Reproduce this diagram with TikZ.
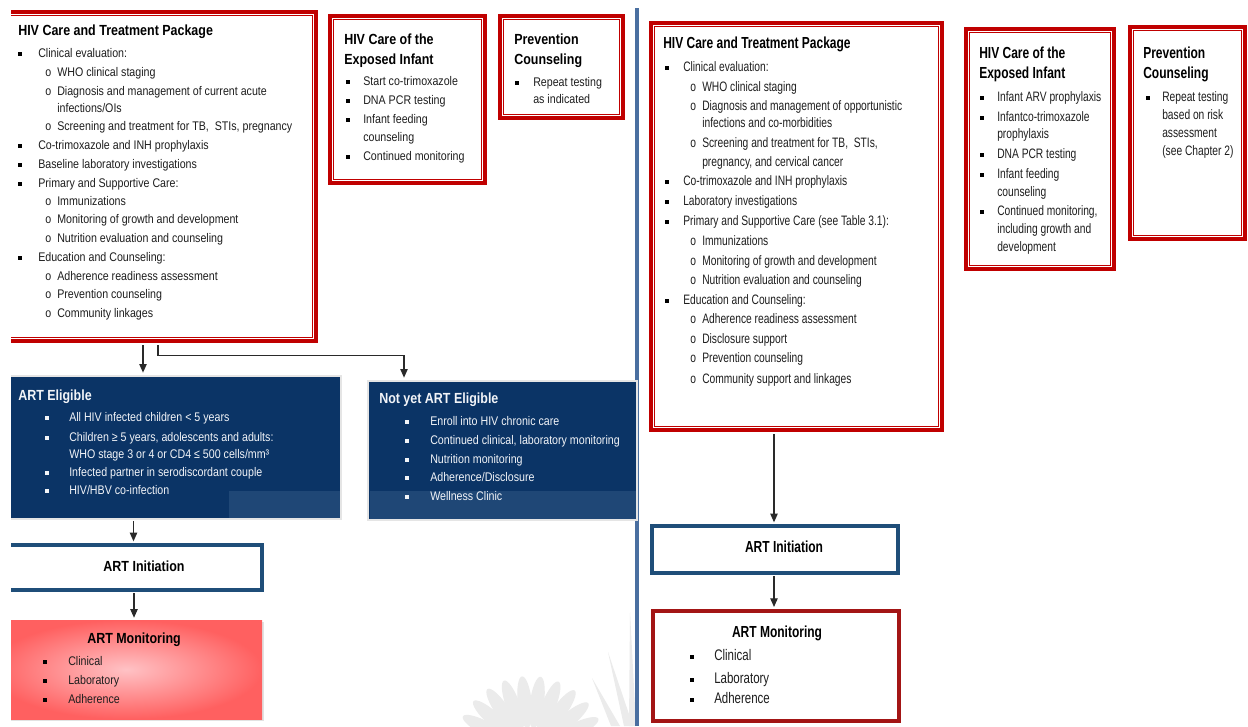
\documentclass[tikz,border=0pt]{standalone}
\usepackage{fontspec}
\setmainfont{Liberation Sans}
\newfontfamily\fA{Liberation Sans}[FakeStretch=0.85]
\newfontfamily\fB{Liberation Sans}[FakeStretch=0.75]
\usetikzlibrary{arrows.meta,fit,shadows}
\definecolor{boxred}{HTML}{C00000}
\definecolor{monred}{HTML}{A31515}
\definecolor{navy}{HTML}{0B3466}
\definecolor{navylt}{HTML}{1F4776}
\definecolor{initblue}{HTML}{1F4E79}
\definecolor{divblue}{HTML}{4A6FA0}
\definecolor{txt}{HTML}{1E1E1E}
\definecolor{whtxt}{HTML}{F2F4F8}
\definecolor{pinkc}{HTML}{FFC2C5}
\definecolor{redc}{HTML}{FF6060}
\definecolor{arrgray}{HTML}{2A2A2A}
\definecolor{wm}{HTML}{EBEBEB}
\tikzset{
  bA/.style={anchor=mid west, inner sep=0pt, text=txt, font=\fA\fontsize{9.4}{11}\selectfont},
  hA/.style={anchor=mid west, inner sep=0pt, text=black, font=\fA\bfseries\fontsize{11}{13}\selectfont},
  bB/.style={anchor=mid west, inner sep=0pt, text=txt, font=\fB\fontsize{10.25}{12}\selectfont},
  bC/.style={anchor=mid west, inner sep=0pt, text=txt, font=\fB\fontsize{11.5}{13}\selectfont},
  hB/.style={anchor=mid west, inner sep=0pt, text=black, font=\fB\bfseries\fontsize{12}{14}\selectfont},
  sq/.style={fill=#1, inner sep=0pt, minimum size=3pt, anchor=center},
  redbox/.style={draw=boxred, line width=3.5pt, fill=white, inner sep=0pt},
  navybox/.style={draw=gray!20, line width=2pt, fill=navy, inner sep=0pt},
  initbox/.style={draw=initblue, line width=2.5pt, fill=white, inner sep=0pt},
  arr/.style={draw=arrgray, line width=0.9pt, -{Triangle[length=6.5pt,width=5.5pt]}, shorten >=1.5pt},
}
\newcommand\TL[4]{\node[#1] (#2) at (#3) {#4};}
\newcommand\SQ[3]{\node[sq=#1] (#2) at (#3) {};}
\newcommand\DBL[1]{\draw[boxred, line width=0.8pt] ([shift={(5.5,5.5)}]#1.north west) rectangle ([shift={(-5.5,-5.5)}]#1.south east);}
\begin{document}
\begin{tikzpicture}[x=0.75pt,y=-0.75pt]
\useasboundingbox (0,0) rectangle (1248,726);
\fill[white] (0,0) rectangle (1248,726);
% watermark
\foreach \a in {12,26,...,170} \fill[wm, rotate around={\a:(530,752)}] (580,752) ellipse (26 and 7);
\fill[wm] (592,678) -- (620,726) -- (611,726) -- cycle;
\fill[wm] (608,652) -- (633,726) -- (624,726) -- cycle;
\fill[wm] (630,612) -- (636,726) -- (629,726) -- cycle;
% divider
\draw[divblue, line width=2.5pt] (637,8) -- (637,726);
% left column (cropped at left)
\begin{scope}
\clip (11,0) rectangle (1248,726);
\node[redbox, fit={(-10,12) (316,341)}] (b1) {};
\DBL{b1}
\node[navybox, fit={(-10,376) (341,519)}] (ae) {};
\fill[navylt] (229,491) rectangle (340,518);
\node[initbox, fit={(-10,545) (262,590)}] (ai) {};
\node[fit={(-10,620) (262,719)}, inner sep=0pt, inner color=pinkc, outer color=redc, drop shadow={shadow xshift=1.5pt, shadow yshift=-1.5pt, fill=gray!45}] (am) {};
\end{scope}
% boxes
\node[redbox, fit={(330,16) (485,183)}] (b2) {};
\DBL{b2}
\node[redbox, fit={(500,16) (623,118)}] (b3) {};
\DBL{b3}
\node[navybox, fit={(368,381) (637,520)}] (ny) {};
\fill[navylt] (369.5,491) rectangle (636,519);
\node[redbox, fit={(651,23) (942,430)}] (b4) {};
\DBL{b4}
\node[redbox, fit={(966,29) (1114,269)}] (b5) {};
\DBL{b5}
\node[redbox, fit={(1130,27) (1245,239)}] (b6) {};
\DBL{b6}
\node[initbox, fit={(652,526) (898,573)}] (ai2) {};
\node[draw=monred, line width=3pt, fill=white, inner sep=0pt, fit={(653,611) (899,721)}] (am2) {};
% connectors
\draw[arr] ([shift={(-10,2)}]b1.south) -- ([shift={(-10,0)}]b1.south |- ae.north);
\draw[arr] ([shift={(5,2)}]b1.south) -- ++(0,10) -| ([shift={(-98.5,0)}]ny.north);
\draw[arr] ([shift={(-32,1)}]ae.south) -- ([shift={(-32,0)}]ae.south |- ai.north);
\draw[arr] ([shift={(8,1.5)}]ai.south) -- ([shift={(8,0)}]ai.south |- am.north);
\draw[arr] ([shift={(-22.5,2)}]b4.south) -- ([shift={(-22.5,0)}]b4.south |- ai2.north);
\draw[arr] ([shift={(-1,1.5)}]ai2.south) -- ([shift={(-1,0)}]ai2.south |- am2.north);
% B1 text
\TL{hA}{b1t}{18,32}{HIV Care and Treatment Package}
\SQ{black}{b1s1}{20,54} \TL{bA}{b1a}{38,54}{Clinical evaluation:}
\TL{bA}{b1o1}{45,73}{o} \TL{bA}{b1b}{57,73}{WHO clinical staging}
\TL{bA}{b1o2}{45,92}{o} \TL{bA}{b1c}{57,92}{Diagnosis and management of current acute}
\TL{bA}{b1d}{57,109}{infections/OIs}
\TL{bA}{b1o3}{45,127}{o} \TL{bA}{b1e}{57,127}{Screening and treatment for TB,\ \ STIs, pregnancy}
\SQ{black}{b1s2}{20,146} \TL{bA}{b1f}{38,146}{Co-trimoxazole and INH prophylaxis}
\SQ{black}{b1s3}{20,165} \TL{bA}{b1g}{38,165}{Baseline laboratory investigations}
\SQ{black}{b1s4}{20,184} \TL{bA}{b1h}{38,184}{Primary and Supportive Care:}
\TL{bA}{b1o4}{45,202}{o} \TL{bA}{b1i}{57,202}{Immunizations}
\TL{bA}{b1o5}{45,220}{o} \TL{bA}{b1j}{57,220}{Monitoring of growth and development}
\TL{bA}{b1o6}{45,239}{o} \TL{bA}{b1k}{57,239}{Nutrition evaluation and counseling}
\SQ{black}{b1s5}{20,258} \TL{bA}{b1l}{38,258}{Education and Counseling:}
\TL{bA}{b1o7}{45,277}{o} \TL{bA}{b1m}{57,277}{Adherence readiness assessment}
\TL{bA}{b1o8}{45,295}{o} \TL{bA}{b1n}{57,295}{Prevention counseling}
\TL{bA}{b1o9}{45,314}{o} \TL{bA}{b1p}{57,314}{Community linkages}
% B2 text
\TL{hA}{b2t1}{344,41}{HIV Care of the}
\TL{hA}{b2t2}{344,61}{Exposed Infant}
\SQ{black}{b2s1}{348,82} \TL{bA}{b2a}{363,82}{Start co-trimoxazole}
\SQ{black}{b2s2}{348,101} \TL{bA}{b2b}{363,101}{DNA PCR testing}
\SQ{black}{b2s3}{348,120} \TL{bA}{b2c}{363,120}{Infant feeding}
\TL{bA}{b2d}{363,138}{counseling}
\SQ{black}{b2s4}{348,157} \TL{bA}{b2e}{363,157}{Continued monitoring}
% B3 text
\TL{hA}{b3t1}{514,41}{Prevention}
\TL{hA}{b3t2}{514,61}{Counseling}
\SQ{black}{b3s1}{517,83} \TL{bA}{b3a}{533,83}{Repeat testing}
\TL{bA}{b3b}{533,100}{as indicated}
% ART eligible
\TL{hA,text=whtxt}{aet}{18,397}{ART Eligible}
\SQ{whtxt}{aes1}{47,418} \TL{bA,text=whtxt}{aea}{69,418}{All HIV infected children < 5 years}
\SQ{whtxt}{aes2}{47,438} \TL{bA,text=whtxt}{aeb}{69,438}{Children ≥ 5 years, adolescents and adults:}
\TL{bA,text=whtxt}{aec}{69,455}{WHO stage 3 or 4 or CD4 ≤ 500 cells/mm³}
\SQ{whtxt}{aes3}{47,473} \TL{bA,text=whtxt}{aed}{69,473}{Infected partner in serodiscordant couple}
\SQ{whtxt}{aes4}{47,491} \TL{bA,text=whtxt}{aee}{69,491}{HIV/HBV co-infection}
% Not yet
\TL{hA,text=whtxt}{nyt}{379,400}{Not yet ART Eligible}
\SQ{whtxt}{nys1}{407,422} \TL{bA,text=whtxt}{nya}{430,422}{Enroll into HIV chronic care}
\SQ{whtxt}{nys2}{407,441} \TL{bA,text=whtxt}{nyb}{430,441}{Continued clinical, laboratory monitoring}
\SQ{whtxt}{nys3}{407,460} \TL{bA,text=whtxt}{nyc}{430,460}{Nutrition monitoring}
\SQ{whtxt}{nys4}{407,478} \TL{bA,text=whtxt}{nyd}{430,478}{Adherence/Disclosure}
\SQ{whtxt}{nys5}{407,497} \TL{bA,text=whtxt}{nye}{430,497}{Wellness Clinic}
% left initiation / monitoring
\TL{hA,anchor=center}{ait}{144,566}{ART Initiation}
\TL{hA,anchor=center}{amt}{134,640}{ART Monitoring}
\SQ{black}{ams1}{45,662} \TL{bA}{ama}{68,662}{Clinical}
\SQ{black}{ams2}{45,681} \TL{bA}{amb}{68,681}{Laboratory}
\SQ{black}{ams3}{45,700} \TL{bA}{amc}{68,700}{Adherence}
% B4 text
\TL{hB}{b4t}{663,45}{HIV Care and Treatment Package}
\SQ{black}{b4s1}{667,68} \TL{bB}{b4a}{683,68}{Clinical evaluation:}
\TL{bB}{b4o1}{690,88}{o} \TL{bB}{b4b}{702,88}{WHO clinical staging}
\TL{bB}{b4o2}{690,107}{o} \TL{bB}{b4c}{702,107}{Diagnosis and management of opportunistic}
\TL{bB}{b4d}{702,124}{infections and co-morbidities}
\TL{bB}{b4o3}{690,144}{o} \TL{bB}{b4e}{702,144}{Screening and treatment for TB,\ \ STIs,}
\TL{bB}{b4f}{702,163}{pregnancy, and cervical cancer}
\SQ{black}{b4s2}{667,182} \TL{bB}{b4g}{683,182}{Co-trimoxazole and INH prophylaxis}
\SQ{black}{b4s3}{667,202} \TL{bB}{b4h}{683,202}{Laboratory investigations}
\SQ{black}{b4s4}{667,222} \TL{bB}{b4i}{683,222}{Primary and Supportive Care (see Table 3.1):}
\TL{bB}{b4o4}{690,242}{o} \TL{bB}{b4j}{702,242}{Immunizations}
\TL{bB}{b4o5}{690,262}{o} \TL{bB}{b4k}{702,262}{Monitoring of growth and development}
\TL{bB}{b4o6}{690,281}{o} \TL{bB}{b4l}{702,281}{Nutrition evaluation and counseling}
\SQ{black}{b4s5}{667,301} \TL{bB}{b4m}{683,301}{Education and Counseling:}
\TL{bB}{b4o7}{690,320}{o} \TL{bB}{b4n}{702,320}{Adherence readiness assessment}
\TL{bB}{b4o8}{690,340}{o} \TL{bB}{b4p}{702,340}{Disclosure support}
\TL{bB}{b4o9}{690,359}{o} \TL{bB}{b4q}{702,359}{Prevention counseling}
\TL{bB}{b4o10}{690,380}{o} \TL{bB}{b4r}{702,380}{Community support and linkages}
% B5 text
\TL{hB}{b5t1}{979,55}{HIV Care of the}
\TL{hB}{b5t2}{979,75}{Exposed Infant}
\SQ{black}{b5s1}{982,98} \TL{bB}{b5a}{997,98}{Infant ARV prophylaxis}
\SQ{black}{b5s2}{982,118} \TL{bB}{b5b}{997,118}{Infantco-trimoxazole}
\TL{bB}{b5c}{997,135}{prophylaxis}
\SQ{black}{b5s3}{982,155} \TL{bB}{b5d}{997,155}{DNA PCR testing}
\SQ{black}{b5s4}{982,175} \TL{bB}{b5e}{997,175}{Infant feeding}
\TL{bB}{b5f}{997,193}{counseling}
\SQ{black}{b5s5}{982,212} \TL{bB}{b5g}{997,212}{Continued monitoring,}
\TL{bB}{b5h}{997,230}{including growth and}
\TL{bB}{b5i}{997,248}{development}
% B6 text
\TL{hB}{b6t1}{1143,55}{Prevention}
\TL{hB}{b6t2}{1143,75}{Counseling}
\SQ{black}{b6s1}{1148,98} \TL{bB}{b6a}{1162,98}{Repeat testing}
\TL{bB}{b6b}{1162,116}{based on risk}
\TL{bB}{b6c}{1162,134}{assessment}
\TL{bB}{b6d}{1162,152}{(see Chapter 2)}
% right initiation / monitoring
\TL{hB,anchor=center}{ai2t}{784,547}{ART Initiation}
\TL{hB,anchor=center}{am2t}{777,633}{ART Monitoring}
\SQ{black}{am2s1}{692,657} \TL{bC}{am2a}{714,657}{Clinical}
\SQ{black}{am2s2}{692,680} \TL{bC}{am2b}{714,680}{Laboratory}
\SQ{black}{am2s3}{692,700} \TL{bC}{am2c}{714,700}{Adherence}
\end{tikzpicture}
\end{document}
